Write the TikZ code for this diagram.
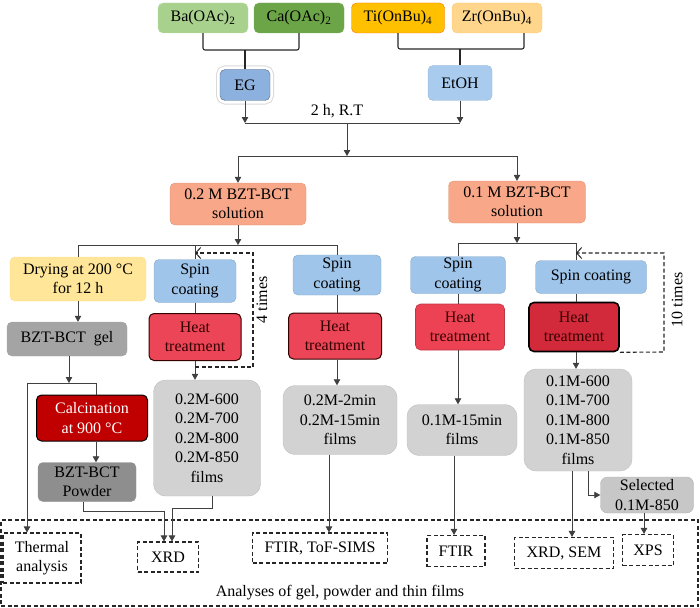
\documentclass[tikz,border=0pt]{standalone}
\usepackage{fontspec}
\setmainfont{Liberation Serif}
\usetikzlibrary{calc,positioning,arrows.meta}
\definecolor{bagreen}{HTML}{A9D18E}
\definecolor{cagreen}{HTML}{6BA547}
\definecolor{tiorange}{HTML}{FFC000}
\definecolor{zrorange}{HTML}{FFD68C}
\definecolor{egblue}{HTML}{8DB1DE}
\definecolor{lightblue}{HTML}{A8CBEE}
\definecolor{spinblue}{HTML}{9FC5EA}
\definecolor{heatred}{HTML}{EC4557}
\definecolor{heatdark}{HTML}{D22A3B}
\definecolor{calcred}{HTML}{C00000}
\definecolor{salmon}{HTML}{F8A788}
\definecolor{dryyellow}{HTML}{FFE699}
\definecolor{filmgray}{HTML}{D2D2D2}
\definecolor{gelgray}{HTML}{A4A4A4}
\definecolor{powgray}{HTML}{8E8E8E}
\tikzset{
  wire/.style={line width=0.8pt, draw=black!75},
  arr/.style={wire, -{Triangle[length=6pt,width=6.5pt]}},
  loopline/.style={line width=1.1pt, draw=black!85, dash pattern=on 4pt off 2.5pt,
    -{Straight Barb[length=5pt,width=11pt,line width=1pt]}},
  brace/.style={line width=1.1pt, draw=black!85, rounded corners=2pt},
  txt/.style={font=\fontsize{16}{19.5}\selectfont, align=center, inner sep=0pt},
  box/.style={txt, draw, rounded corners=5pt},
  wh/.style 2 args={minimum width=#1, minimum height=#2},
  film/.style={box, fill=filmgray, draw=filmgray!90!black, rounded corners=12pt},
  spin/.style={box, fill=spinblue, draw=spinblue!85!black},
  heat/.style={box, fill=heatred, draw=black!80!red, line width=1pt, text=black!80!red},
  anbox/.style={txt, draw=black!85, line width=1.1pt, dash pattern=on 4pt off 2.5pt}
}
\begin{document}
\begin{tikzpicture}[x=1pt,y=-1pt]
  \useasboundingbox (0,0) rectangle (700,607);
  % analyses frame
  \node[anbox, wh={697}{86}] (frame) at (349.5,563) {};
  \node[txt] (frametxt) at (340,593) {Analyses of gel, powder and thin films};
  % precursors
  \node[box, fill=bagreen, draw=bagreen!70!white, wh={90}{30}] (ba) at (203,18) {Ba(OAc)\textsubscript{2}};
  \node[box, fill=cagreen, draw=cagreen!85!white, wh={90}{30}] (ca) at (299,18) {Ca(OAc)\textsubscript{2}};
  \node[box, fill=tiorange, draw=orange!90!red, wh={93}{30}] (ti) at (398,18) {Ti(OnBu)\textsubscript{4}};
  \node[box, fill=zrorange, draw=zrorange!85!orange, wh={90}{30}] (zr) at (497,18) {Zr(OnBu)\textsubscript{4}};
  \node[box, fill=egblue, draw=egblue!60!black, preaction={draw=black!15,line width=8pt},
        preaction={draw=white,line width=6pt}, wh={50}{31}] (eg) at (245,85) {EG};
  \node[box, fill=lightblue, draw=lightblue!90!black, wh={64}{35}] (etoh) at (460,83) {EtOH};
  \coordinate (bkA) at (245,50);
  \coordinate (bkB) at (460,49);
  \draw[brace] (ba.south) |- (bkA) -| (ca.south);
  \draw[brace] (bkA) -- (eg.north);
  \draw[brace] (ti.south) |- (bkB) -| ([xshift=27]zr.south);
  \draw[brace] (bkB) -- (etoh.north);
  % mixing
  \coordinate (mixM) at (347,123);
  \coordinate (splitM) at (347,156);
  \draw[arr] (eg.south) -- (eg.south |- mixM);
  \draw[arr] (etoh.south) -- (etoh.south |- mixM);
  \draw[wire] (eg.south |- mixM) -- (etoh.south |- mixM);
  \node[txt] (rt) at (337,111) {2 h, R.T};
  \node[box, fill=salmon, draw=salmon!90!black, wh={136}{42}] (sol2) at (238,204) {0.2 M BZT-BCT\\solution};
  \node[box, fill=salmon, draw=salmon!90!black, wh={137}{42}] (sol1) at (517,202) {0.1 M BZT-BCT\\solution};
  \draw[arr] (mixM) -- (splitM);
  \draw[arr] (splitM) -| (sol2.north);
  \draw[arr] (splitM) -| (sol1.north);
  % 0.2 M branch
  \node[box, fill=dryyellow, draw=dryyellow!90!orange, wh={136}{44}] (dry) at (78,279) {Drying at 200 °C\\for 12 h};
  \node[box, fill=gelgray, draw=gelgray, wh={120}{34}] (gel) at (67,339) {BZT-BCT\ \ gel};
  \node[box, fill=calcred, draw=black, line width=1pt, text=white, wh={111}{46}] (calc) at (92,418) {Calcination\\at 900 °C};
  \node[box, fill=powgray, draw=powgray, wh={98}{39}] (pow) at (87,482) {BZT-BCT\\Powder};
  \node[spin, wh={82}{43}] (spinA) at (195,281) {Spin\\coating};
  \node[heat, wh={92}{47}] (heatA) at (195,337) {Heat\\treatment};
  \node[film, wh={107}{116}] (filmsA) at (207,438) {0.2M-600\\0.2M-700\\0.2M-800\\ 0.2M-850\\films};
  \node[spin, wh={88}{40}] (spinB) at (337,275) {Spin\\coating};
  \node[heat, wh={93}{46}] (heatB) at (335,336) {Heat\\treatment};
  \node[film, wh={114}{69}] (filmsB) at (340,420) {0.2M-2min\\0.2M-15min\\films};
  \coordinate (brA) at (238,245);
  \draw[arr] (sol2.south) -- (brA);
  \draw[wire] (dry.north) |- (spinB.north |- brA) -- (spinB.north);
  \draw[wire] (spinA.north |- brA) -- (spinA.north);
  \draw[arr] (dry.south) -- (dry.south |- gel.north);
  \coordinate (gelB) at (69,383);
  \coordinate (tg) at (27,383);
  \coordinate (cg) at (96,383);
  \draw[arr] (gel.south -| gelB) -- (gelB);
  \draw[wire] (tg) -- (cg) -- (cg |- calc.north);
  \draw[arr] (cg |- calc.south) -- (cg |- pow.north);
  \draw[wire] (spinA.south) -- (heatA.north);
  \draw[arr] (heatA.south) -- (heatA.south |- filmsA.north);
  \coordinate (lpA1) at (253,367);
  \coordinate (lpA2) at (253,253);
  \draw[loopline] (heatA.south |- lpA1) -- (lpA1) -- (lpA2) -- (spinA.north |- lpA2);
  \node[txt, rotate=90] (timesA) at (262,300) {4 times};
  \draw[wire] (spinB.south) -- (spinB.south |- heatB.north);
  \draw[arr] (spinB.south |- heatB.south) -- (spinB.south |- filmsB.north);
  % 0.1 M branch
  \node[spin, wh={95}{37}] (spinC) at (458,275) {Spin\\coating};
  \node[heat, fill=heatred!95!red, draw=heatred!80!black, line width=0.6pt, wh={89}{46}] (heatC) at (460,327) {Heat\\treatment};
  \node[film, wh={110}{51}] (filmsC) at (462,430) {0.1M-15min\\films};
  \node[spin, wh={111}{33}] (spinD) at (591,277) {Spin coating};
  \node[heat, fill=heatdark, draw=black, line width=1.6pt, wh={90}{49}] (heatD) at (574,327) {Heat\\treatment};
  \node[film, wh={108}{102}] (filmsD) at (578,420) {0.1M-600\\0.1M-700\\0.1M-800\\ 0.1M-850\\films};
  \node[box, fill=filmgray!95!black, draw=filmgray!85!black, rounded corners=7pt, wh={93}{36}] (sel) at (647,495) {Selected\\0.1M-850};
  \coordinate (brB) at (517,243);
  \coordinate (topD) at (576,243);
  \draw[arr] (sol1.south) -- (brB);
  \draw[wire] (spinC.north) |- (topD) -- (topD |- spinD.north);
  \draw[wire] (spinC.south) -- (spinC.south |- heatC.north);
  \draw[arr] (spinC.south |- heatC.south) -- (spinC.south |- filmsC.north);
  \draw[wire] (topD |- spinD.south) -- (topD |- heatD.north);
  \draw[arr] (topD |- heatD.south) -- (topD |- filmsD.north);
  \coordinate (lpD1) at (664,352);
  \coordinate (lpD2) at (664,253);
  \draw[loopline] (heatD.south east) -- (lpD1) -- (lpD2) -- (topD |- lpD2);
  \node[txt, rotate=90] (timesD) at (677,300) {10 times};
  % analyses
  \node[anbox, wh={78}{50}] (therm) at (42,558) {Thermal\\analysis};
  \node[anbox, wh={61}{30}] (xrd) at (168,557) {XRD};
  \node[anbox, wh={135}{30}] (ftirA) at (320,548) {FTIR, ToF-SIMS};
  \node[anbox, wh={58}{31}] (ftirB) at (456,551) {FTIR};
  \node[anbox, wh={99}{31}] (xrdsem) at (564,553) {XRD, SEM};
  \node[anbox, wh={51}{31}] (xps) at (648,550) {XPS};
  \draw[arr] (tg) -- (tg |- therm.north);
  \draw[arr] ([xshift=-4]pow.south) -- ++(0,10) -| ([xshift=-4]xrd.north);
  \draw[arr] ([xshift=5]filmsA.south) -- ++(0,12) -| ([xshift=4]xrd.north);
  \draw[arr] ([xshift=-11]filmsB.south) -- ([xshift=-11]filmsB.south |- ftirA.north);
  \draw[arr] ([xshift=-8]filmsC.south) -- ([xshift=-8]filmsC.south |- ftirB.north);
  \draw[arr] ([xshift=-6]filmsD.south) -- ([xshift=-6]filmsD.south |- xrdsem.north);
  \draw[arr] ([xshift=10]filmsD.south) |- (sel.west);
  \draw[arr] ([xshift=-3]sel.south) -- ([xshift=-3]sel.south |- xps.north);
\end{tikzpicture}
\end{document}
